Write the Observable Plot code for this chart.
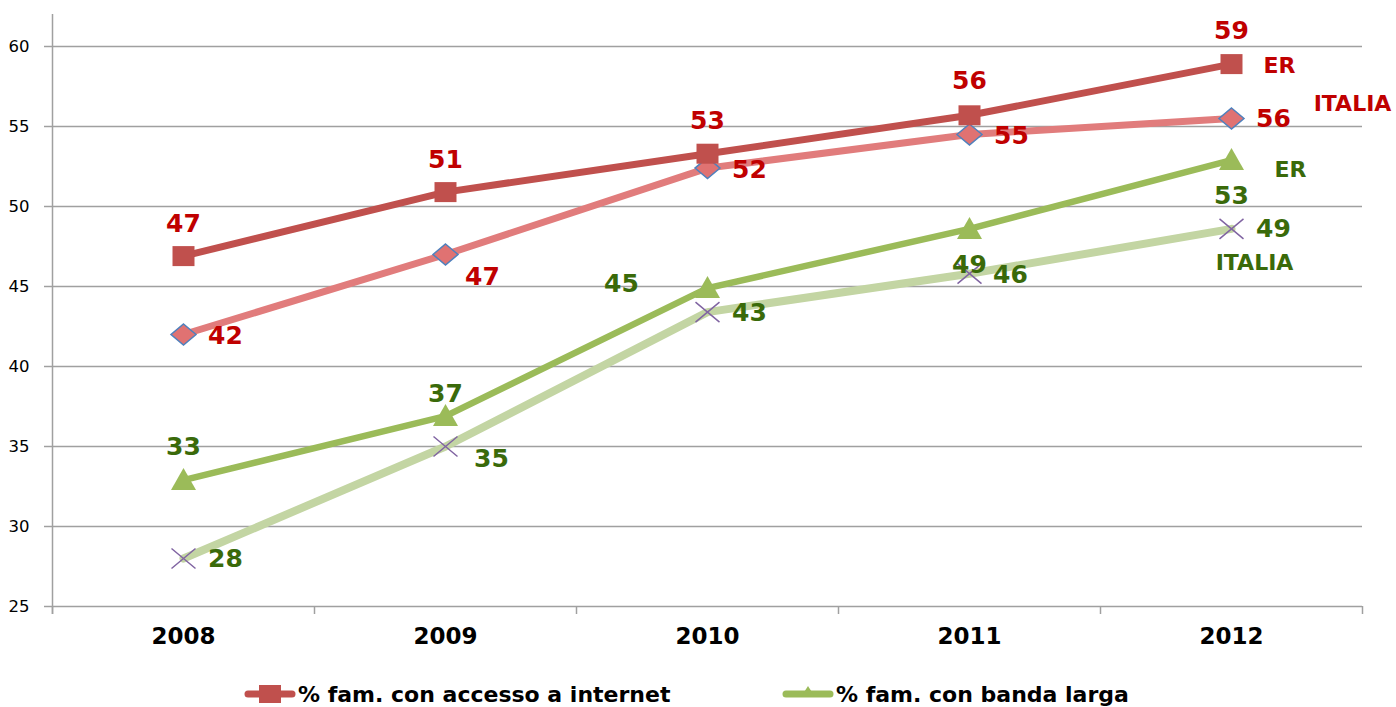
<!DOCTYPE html>
<html>
<head>
<meta charset="utf-8">
<script src="https://cdn.jsdelivr.net/npm/d3@7"></script>
<script src="https://cdn.jsdelivr.net/npm/@observablehq/plot@0.6"></script>
<style>
  html, body { margin: 0; padding: 0; background: #fff; overflow: hidden; }
  #wrap { position: relative; width: 1396px; height: 707px; font-family: "DejaVu Sans", Verdana, sans-serif; }
  #chart svg { display: block; }
  .leg { position: absolute; top: 681px; display: flex; align-items: center; font-weight: bold; font-size: 22px; color: #000; white-space: nowrap; }
  .leg svg { margin-right: 2px; }
</style>
</head>
<body>
<div id="wrap">
  <div id="chart"></div>
  <div class="leg" id="leg1" style="left:244px"></div>
  <div class="leg" id="leg2" style="left:782px"></div>
</div>
<script>
// ---- data ----
const years = [2008, 2009, 2010, 2011, 2012];
const erInternet = [46.9, 50.9, 53.3, 55.7, 58.9];
const itInternet = [42.0, 47.0, 52.4, 54.5, 55.5];
const erBanda = [32.9, 36.9, 44.9, 48.6, 52.9];
const itBanda = [28.0, 35.0, 43.4, 45.8, 48.6];
const yTicks = [25, 30, 35, 40, 45, 50, 55, 60];
const legendLabels = ["% fam. con accesso a internet", "% fam. con banda larga"];
const seriesNames = ["ER", "ITALIA"];

// ---- styling ----
const C = {
  erNet: "#C0504D", itNet: "#E17C7C", erBb: "#9BBB59", itBb: "#C3D5A3",
  red: "#C00000", green: "#3A6A0A", grid: "#A0A0A0"
};
// label offsets (px) per point
const offErNet = [[0,-32],[0,-32],[0,-33],[0,-34],[0,-33]];
const offItNet = [[42,1],[37,22],[42,2],[42,1],[42,0]];
const offErBb  = [[0,-33],[0,-22],[-86,-4],[0,36],[0,36]];
const offItBb  = [[42,0],[46,12],[42,1],[41,1],[42,0]];

const rows = arr => years.map((y, i) => ({year: y, value: arr[i], i}));

const symSquare = {draw(c){ c.rect(-11, -10, 22, 20); }};
const symDiamond = {draw(c){ c.moveTo(0,-10.5); c.lineTo(12.5,0); c.lineTo(0,10.5); c.lineTo(-12.5,0); c.closePath(); }};
const symTriangle = {draw(c){ c.moveTo(0,-12); c.lineTo(12.5,10); c.lineTo(-12.5,10); c.closePath(); }};
const symX = {draw(c){ c.moveTo(-12,-10); c.lineTo(12,10); c.moveTo(12,-10); c.lineTo(-12,10); }};

const edges = years.map(y => y - 0.5).concat([years[years.length - 1] + 0.5]);

function labelMarks(arr, offs, color) {
  return rows(arr).map((r, i) => Plot.text([r], {
    x: "year", y: "value", text: d => String(Math.round(d.value)),
    dx: offs[i][0], dy: offs[i][1], fill: color, fontSize: 25, fontWeight: "bold",
    textAnchor: "middle", lineAnchor: "middle"
  }));
}
function nameMark(arr, name, dx, dy, color) {
  const last = rows(arr).slice(-1);
  return Plot.text(last, {x: "year", y: "value", text: () => name, dx, dy,
    fill: color, fontSize: 22, fontWeight: "bold", textAnchor: "middle", lineAnchor: "middle"});
}
const lineOpts = (color, w) => ({x: "year", y: "value", stroke: color, strokeWidth: w,
  strokeLinecap: "round", strokeLinejoin: "round"});

const plot = Plot.plot({
  width: 1396, height: 660,
  marginLeft: 52, marginRight: 34, marginTop: 14, marginBottom: 54,
  style: {fontFamily: "'DejaVu Sans', Verdana, sans-serif", background: "#fff"},
  x: {type: "linear", domain: [2007.5, 2012.5]},
  y: {domain: [25, 62]},
  marks: [
    Plot.ruleY(yTicks, {stroke: C.grid, strokeWidth: 1.5}),
    Plot.ruleX([edges[0]], {y1: 24.5, y2: 62, stroke: C.grid, strokeWidth: 1.5}),
    Plot.ruleX(edges, {y1: 24.5, y2: 25, stroke: C.grid, strokeWidth: 1.5}),
    Plot.axisY({ticks: yTicks, tickSize: 8, tickPadding: 15, fontSize: 16.5, label: null,
      stroke: C.grid, strokeWidth: 1.5, fill: "#000"}),
    Plot.axisX({ticks: years, tickFormat: d => String(d), tickSize: 0, tickPadding: 21,
      fontSize: 23, fontWeight: "bold", label: null, fill: "#000"}),
    Plot.line(rows(itBanda), lineOpts(C.itBb, 8)),
    Plot.line(rows(erBanda), lineOpts(C.erBb, 6.5)),
    Plot.line(rows(itInternet), lineOpts(C.itNet, 7)),
    Plot.line(rows(erInternet), lineOpts(C.erNet, 7)),
    Plot.dot(rows(itBanda), {x: "year", y: "value", symbol: symX, stroke: "#8064A2", strokeWidth: 1.5, fill: "none"}),
    Plot.dot(rows(erBanda), {x: "year", y: "value", symbol: symTriangle, fill: C.erBb, stroke: "none"}),
    Plot.dot(rows(itInternet), {x: "year", y: "value", symbol: symDiamond, fill: "#E07272", stroke: "#4F81BD", strokeWidth: 1.5}),
    Plot.dot(rows(erInternet), {x: "year", y: "value", symbol: symSquare, fill: C.erNet, stroke: "none"}),
    ...labelMarks(erInternet, offErNet, C.red),
    ...labelMarks(itInternet, offItNet, C.red),
    ...labelMarks(erBanda, offErBb, C.green),
    ...labelMarks(itBanda, offItBb, C.green),
    nameMark(erInternet, seriesNames[0], 48, 2, C.red),
    nameMark(itInternet, seriesNames[1], 121, -15, C.red),
    nameMark(erBanda, seriesNames[0], 59, 10, C.green),
    nameMark(itBanda, seriesNames[1], 23, 34, C.green)
  ]
});
document.getElementById("chart").appendChild(plot);

function swatch(color, kind) {
  const s = d3.create("svg").attr("width", 52).attr("height", 26);
  s.append("line").attr("x1", 4).attr("x2", 48).attr("y1", 13).attr("y2", 13)
    .attr("stroke", color).attr("stroke-width", 7).attr("stroke-linecap", "round");
  if (kind === "square") s.append("rect").attr("x", 15).attr("y", 4).attr("width", 22).attr("height", 18).attr("fill", color);
  else s.append("path").attr("d", "M26,5L33,16L19,16Z").attr("fill", color);
  return s.node();
}
const l1 = document.getElementById("leg1");
l1.appendChild(swatch(C.erNet, "square"));
l1.appendChild(document.createTextNode(legendLabels[0]));
const l2 = document.getElementById("leg2");
l2.appendChild(swatch(C.erBb, "triangle"));
l2.appendChild(document.createTextNode(legendLabels[1]));
</script>
</body>
</html>
